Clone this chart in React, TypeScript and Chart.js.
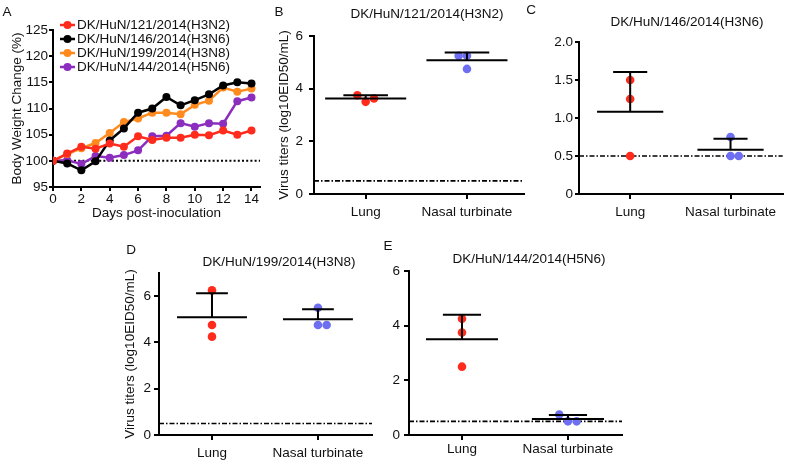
import React, { useEffect, useRef } from 'react';
import { Chart, registerables } from 'chart.js';
Chart.register(...registerables);

const FONT = '"Liberation Sans", Arial, Helvetica, sans-serif';
const TXT = '#111';

// ---------- Panel A data ----------
const days = [0, 1, 2, 3, 4, 5, 6, 7, 8, 9, 10, 11, 12, 13, 14];
const strainLabels = [
  'DK/HuN/121/2014(H3N2)',
  'DK/HuN/146/2014(H3N6)',
  'DK/HuN/199/2014(H3N8)',
  'DK/HuN/144/2014(H5N6)',
];
const weightH3N2 = [100, 101.4, 102.7, 102.3, 103.3, 102.7, 104.7, 104.0, 104.4, 104.4, 105.0, 104.9, 105.8, 105.0, 105.8];
const weightH3N6 = [100, 99.5, 98.2, 99.9, 103.9, 106.2, 109.2, 110.0, 112.2, 110.6, 111.6, 112.7, 114.4, 115.0, 114.8];
const weightH3N8 = [100, 101.3, 102.4, 103.4, 105.3, 107.4, 108.1, 109.2, 109.2, 108.9, 110.7, 111.5, 114.0, 113.2, 113.8];
const weightH5N6 = [100, 100.1, 99.4, 100.9, 100.6, 101.1, 102.0, 104.7, 104.8, 107.2, 106.5, 107.2, 107.1, 111.4, 112.1];
const baselineWeight = 100;

// ---------- Panels B-E data ----------
const tissues = ['Lung', 'Nasal turbinate'];
const detectionLimit = 0.5;

const bLung = [3.75, 3.5, 3.625];
const bNasal = [5.25, 5.25, 4.75];
const bLungJitter = [-1, 0, 1];
const bNasalJitter = [-1, 0, 0];

const cLung = [1.5, 1.25, 0.5];
const cNasal = [0.75, 0.5, 0.5];
const cLungJitter = [0, 0, 0];
const cNasalJitter = [0, 0, 1];

const dLung = [6.25, 4.75, 4.25];
const dNasal = [5.5, 4.75, 4.75];
const dLungJitter = [0, 0, 0];
const dNasalJitter = [0, 0, 1];

const eLung = [4.25, 3.75, 2.5];
const eNasal = [0.75, 0.5, 0.5];
const eLungJitter = [0, 0, 0];
const eNasalJitter = [-1, 0, 1];

const RED = '#FF2B1C';
const BLACK = '#000000';
const ORANGE = '#FF8A1E';
const PURPLE = '#8B2DBE';
const BLUE = '#6E6EF2';

type Box = { left: number; top: number; width: number; height: number };

function ChartCanvas({ box, make }: { box: Box; make: () => any }) {
  const ref = useRef<HTMLCanvasElement>(null);
  useEffect(() => {
    const chart = new Chart(ref.current as HTMLCanvasElement, make());
    return () => chart.destroy();
  }, []);
  return (
    <canvas
      ref={ref}
      width={box.width}
      height={box.height}
      style={{ position: 'absolute', left: box.left, top: box.top, width: box.width, height: box.height }}
    />
  );
}

function hLinePlugin(value: number, dash: number[], width: number) {
  return {
    id: 'hline',
    beforeDatasetsDraw(chart: any) {
      const { ctx, chartArea, scales } = chart;
      const yy = scales.y.getPixelForValue(value);
      ctx.save();
      ctx.strokeStyle = '#000';
      ctx.lineWidth = width;
      ctx.setLineDash(dash);
      ctx.beginPath();
      ctx.moveTo(chartArea.left, yy);
      ctx.lineTo(chartArea.right, yy);
      ctx.stroke();
      ctx.restore();
    },
  };
}

function legendPlugin() {
  return {
    id: 'insideLegend',
    afterDatasetsDraw(chart: any) {
      const { ctx, chartArea } = chart;
      ctx.save();
      ctx.font = `13.5px ${FONT}`;
      ctx.textBaseline = 'middle';
      chart.data.datasets.forEach((ds: any, i: number) => {
        const yy = chartArea.top - 5 + i * 14;
        const x0 = chartArea.left + 7;
        ctx.strokeStyle = ds.borderColor;
        ctx.fillStyle = ds.borderColor;
        ctx.lineWidth = 2.5;
        ctx.beginPath();
        ctx.moveTo(x0, yy);
        ctx.lineTo(x0 + 15, yy);
        ctx.stroke();
        ctx.beginPath();
        ctx.arc(x0 + 7.5, yy, 4, 0, Math.PI * 2);
        ctx.fill();
        ctx.fillStyle = TXT;
        ctx.fillText(ds.label, x0 + 17, yy + 0.5);
      });
      ctx.restore();
    },
  };
}

function meanSdPlugin(groups: number[][], meanHalf: number, capHalf: number) {
  return {
    id: 'meanSd',
    afterDatasetsDraw(chart: any) {
      const { ctx, scales } = chart;
      const x = scales.x;
      const y = scales.y;
      ctx.save();
      ctx.strokeStyle = '#000';
      ctx.lineWidth = 2;
      groups.forEach((vals, i) => {
        const n = vals.length;
        const mean = vals.reduce((a, b) => a + b, 0) / n;
        const sd = Math.sqrt(vals.reduce((a, b) => a + (b - mean) * (b - mean), 0) / (n - 1));
        const cx = i + 1;
        const yMean = y.getPixelForValue(mean);
        const yTop = y.getPixelForValue(mean + sd);
        ctx.beginPath();
        ctx.moveTo(x.getPixelForValue(cx - meanHalf), yMean);
        ctx.lineTo(x.getPixelForValue(cx + meanHalf), yMean);
        ctx.moveTo(x.getPixelForValue(cx), yMean);
        ctx.lineTo(x.getPixelForValue(cx), yTop);
        ctx.moveTo(x.getPixelForValue(cx - capHalf), yTop);
        ctx.lineTo(x.getPixelForValue(cx + capHalf), yTop);
        ctx.stroke();
      });
      ctx.restore();
    },
  };
}

function weightConfig() {
  const series = [
    { label: strainLabels[0], data: weightH3N2, color: RED },
    { label: strainLabels[1], data: weightH3N6, color: BLACK },
    { label: strainLabels[2], data: weightH3N8, color: ORANGE },
    { label: strainLabels[3], data: weightH5N6, color: PURPLE },
  ];
  return {
    type: 'line',
    data: {
      datasets: series.map((s) => ({
        label: s.label,
        data: days.map((d, i) => ({ x: d, y: s.data[i] })),
        borderColor: s.color,
        backgroundColor: s.color,
        pointBackgroundColor: s.color,
        pointBorderColor: s.color,
        pointRadius: 4,
        pointBorderWidth: 0,
        borderWidth: 2.5,
        tension: 0,
      })),
    },
    options: {
      responsive: false,
      animation: false,
      devicePixelRatio: 1,
      layout: { padding: { left: 5, top: 30, right: 10, bottom: 0 } },
      plugins: { legend: { display: false }, tooltip: { enabled: false } },
      scales: {
        x: {
          type: 'linear',
          min: 0,
          max: 14.6,
          afterFit: (s: any) => { s.height = 38; },
          ticks: { stepSize: 2, includeBounds: false, padding: 0, color: TXT, font: { family: FONT, size: 13.5 }, maxRotation: 0 },
          grid: { display: true, drawOnChartArea: false, drawTicks: true, tickLength: 4, color: '#000', lineWidth: 2 },
          border: { display: true, color: '#000', width: 2 },
          title: { display: true, text: 'Days post-inoculation', color: TXT, font: { family: FONT, size: 13.5 }, padding: { top: 4, bottom: 4 } },
        },
        y: {
          min: 95,
          max: 125,
          afterFit: (s: any) => { s.width = 48; },
          ticks: { stepSize: 5, includeBounds: false, padding: 1, color: TXT, font: { family: FONT, size: 13.5 } },
          grid: { display: true, drawOnChartArea: false, drawTicks: true, tickLength: 4, color: '#000', lineWidth: 2 },
          border: { display: true, color: '#000', width: 2 },
          title: { display: true, text: 'Body Weight Change (%)', color: TXT, font: { family: FONT, size: 13.5 }, padding: { top: 4, bottom: 4 } },
        },
      },
    },
    plugins: [hLinePlugin(baselineWeight, [2, 2.2], 2), legendPlugin()],
  };
}

type TiterOpts = {
  lung: number[];
  nasal: number[];
  lungJ: number[];
  nasalJ: number[];
  xMin: number;
  xMax: number;
  yMax: number;
  yStep: number;
  yTitle?: string;
  decimals?: boolean;
  padding: { left: number; top: number; right: number; bottom: number };
  yWidth: number;
  xHeight: number;
  yTickLen: number;
  yTickPad: number;
  xTickPad: number;
  meanHalf: number;
  capHalf: number;
};

function titerConfig(o: TiterOpts) {
  const jit = 0.082;
  return {
    type: 'scatter',
    data: {
      datasets: [
        {
          label: tissues[0],
          data: o.lung.map((v, i) => ({ x: 1 + o.lungJ[i] * jit, y: v })),
          backgroundColor: RED,
          borderColor: RED,
          pointRadius: 4.3,
          pointBorderWidth: 0,
        },
        {
          label: tissues[1],
          data: o.nasal.map((v, i) => ({ x: 2 + o.nasalJ[i] * jit, y: v })),
          backgroundColor: BLUE,
          borderColor: BLUE,
          pointRadius: 4.3,
          pointBorderWidth: 0,
        },
      ],
    },
    options: {
      responsive: false,
      animation: false,
      devicePixelRatio: 1,
      layout: { padding: o.padding },
      plugins: { legend: { display: false }, tooltip: { enabled: false } },
      scales: {
        x: {
          type: 'linear',
          min: o.xMin,
          max: o.xMax,
          afterFit: (s: any) => { s.height = o.xHeight; },
          afterBuildTicks: (s: any) => { s.ticks = [{ value: 1 }, { value: 2 }]; },
          ticks: {
            padding: o.xTickPad,
            color: TXT,
            maxRotation: 0,
            autoSkip: false,
            font: { family: FONT, size: 13.5 },
            callback: (v: number) => tissues[Math.round(v) - 1],
          },
          grid: { display: true, drawOnChartArea: false, drawTicks: true, tickLength: 5, color: '#000', lineWidth: 2 },
          border: { display: true, color: '#000', width: 2 },
        },
        y: {
          min: 0,
          max: o.yMax,
          afterFit: (s: any) => { s.width = o.yWidth; },
          ticks: {
            stepSize: o.yStep,
            includeBounds: false,
            padding: o.yTickPad,
            color: TXT,
            font: { family: FONT, size: 13.5 },
            callback: (v: number) => (o.decimals ? (v === 0 ? '0' : v.toFixed(1)) : String(v)),
          },
          grid: { display: true, drawOnChartArea: false, drawTicks: true, tickLength: o.yTickLen, color: '#000', lineWidth: 2 },
          border: { display: true, color: '#000', width: 2 },
          title: {
            display: !!o.yTitle,
            text: o.yTitle || '',
            color: TXT,
            font: { family: FONT, size: 13.5 },
            padding: { top: 4, bottom: 4 },
          },
        },
      },
    },
    plugins: [hLinePlugin(detectionLimit, [5, 2, 1.5, 2], 1.6), meanSdPlugin([o.lung, o.nasal], o.meanHalf, o.capHalf)],
  };
}

const yTiter = 'Virus titers (log10EID50/mL)';

function Label({ x, y, text, size = 13.5 }: { x: number; y: number; text: string; size?: number }) {
  return (
    <div
      style={{
        position: 'absolute',
        left: x,
        top: y,
        transform: 'translate(-50%, -50%)',
        font: `${size}px ${FONT}`,
        color: TXT,
        whiteSpace: 'nowrap',
        lineHeight: 1,
      }}
    >
      {text}
    </div>
  );
}

export default function App() {
  return (
    <div style={{ position: 'fixed', left: 0, top: 0, width: 787, height: 463, background: '#fff', overflow: 'hidden' }}>
      <ChartCanvas box={{ left: 0, top: 0, width: 270, height: 225 }} make={weightConfig} />
      <ChartCanvas
        box={{ left: 270, top: 0, width: 258, height: 225 }}
        make={() =>
          titerConfig({
            lung: bLung, nasal: bNasal, lungJ: bLungJitter, nasalJ: bNasalJitter,
            xMin: 0.49, xMax: 2.56, yMax: 6, yStep: 2, yTitle: yTiter,
            padding: { left: 2, top: 36, right: 3, bottom: 0 }, yWidth: 42, xHeight: 31,
            yTickLen: 5, yTickPad: 6, xTickPad: 5, meanHalf: 0.4, capHalf: 0.22,
          })
        }
      />
      <ChartCanvas
        box={{ left: 528, top: 0, width: 259, height: 225 }}
        make={() =>
          titerConfig({
            lung: cLung, nasal: cNasal, lungJ: cLungJitter, nasalJ: cNasalJitter,
            xMin: 0.49, xMax: 2.52, yMax: 2, yStep: 0.5, decimals: true,
            padding: { left: 0, top: 42, right: 1, bottom: 0 }, yWidth: 51, xHeight: 31,
            yTickLen: 4, yTickPad: 2, xTickPad: 5, meanHalf: 0.33, capHalf: 0.17,
          })
        }
      />
      <ChartCanvas
        box={{ left: 110, top: 240, width: 270, height: 223 }}
        make={() =>
          titerConfig({
            lung: dLung, nasal: dNasal, lungJ: dLungJitter, nasalJ: dNasalJitter,
            xMin: 0.5, xMax: 2.51, yMax: 7, yStep: 2, yTitle: yTiter,
            padding: { left: 8, top: 33, right: 8, bottom: 0 }, yWidth: 41, xHeight: 28,
            yTickLen: 5, yTickPad: 3, xTickPad: 5, meanHalf: 0.33, capHalf: 0.15,
          })
        }
      />
      <ChartCanvas
        box={{ left: 380, top: 240, width: 250, height: 223 }}
        make={() =>
          titerConfig({
            lung: eLung, nasal: eNasal, lungJ: eLungJitter, nasalJ: eNasalJitter,
            xMin: 0.5, xMax: 2.51, yMax: 6, yStep: 2,
            padding: { left: 0, top: 31, right: 8, bottom: 0 }, yWidth: 29, xHeight: 28,
            yTickLen: 5, yTickPad: 4, xTickPad: 1, meanHalf: 0.34, capHalf: 0.18,
          })
        }
      />
      <Label x={7} y={12} text="A" size={13.5} />
      <Label x={279} y={12} text="B" size={13.5} />
      <Label x={531} y={10} text="C" size={13.5} />
      <Label x={131} y={250} text="D" size={13.5} />
      <Label x={388} y={246} text="E" size={13.5} />
      <Label x={427} y={14} text={strainLabels[0]} />
      <Label x={687} y={22} text={strainLabels[1]} />
      <Label x={279} y={262} text={strainLabels[2]} />
      <Label x={529} y={259} text={strainLabels[3]} />
    </div>
  );
}
